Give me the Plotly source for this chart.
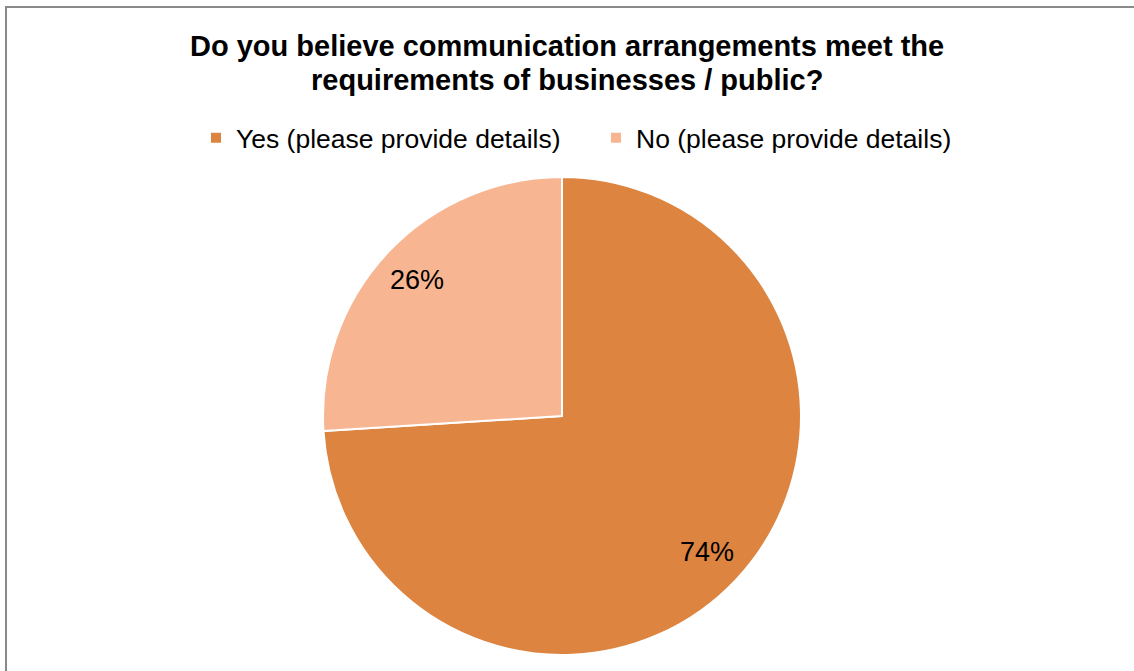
import math
import plotly.graph_objects as go

# Survey answers and their shares
labels = ["Yes (please provide details)", "No (please provide details)"]
values = [74, 26]
colors = ["#DC8440", "#F7B691"]
title_lines = ["Do you believe communication arrangements meet the",
               "requirements of businesses / public?"]

W, H = 1134, 671
# pie bounding box in pixels (left, top, right, bottom)
px_left, px_top, px_right, px_bottom = 323, 177, 801, 655
dom_x = [px_left / W, px_right / W]
dom_y = [1 - px_bottom / H, 1 - px_top / H]

font_family = "Arial, Liberation Sans, sans-serif"

fig = go.Figure(go.Pie(
    labels=labels,
    values=values,
    sort=False,
    direction="clockwise",
    rotation=0,
    marker=dict(colors=colors, line=dict(color="white", width=2)),
    textinfo="none",
    hoverinfo="label+percent",
    domain=dict(x=dom_x, y=dom_y),
))

# percentage labels placed along each slice's middle angle
cx = (px_left + px_right) / 2
cy = (px_top + px_bottom) / 2
r = (px_right - px_left) / 2
total = sum(values)
cum = 0
annotations = []
for v in values:
    mid = (cum + v / 2) / total * 2 * math.pi
    cum += v
    x = cx + 0.83 * r * math.sin(mid)
    y = cy - 0.83 * r * math.cos(mid)
    annotations.append(dict(
        x=x / W, y=1 - y / H, xref="paper", yref="paper",
        text=f"{round(v / total * 100)}%", showarrow=False,
        font=dict(family=font_family, size=27, color="#000000"),
        xanchor="center", yanchor="middle",
    ))

# two-line bold title
for line, ypx in zip(title_lines, [46, 80]):
    annotations.append(dict(
        x=0.5, y=1 - ypx / H, xref="paper", yref="paper",
        text=f"<b>{line}</b>", showarrow=False,
        font=dict(family=font_family, size=29, color="#000000"),
        xanchor="center", yanchor="middle",
    ))

fig.update_layout(
    width=W, height=H,
    margin=dict(l=0, r=0, t=0, b=0),
    paper_bgcolor="white",
    plot_bgcolor="white",
    showlegend=True,
    legend=dict(
        orientation="h", x=196 / W, xanchor="left", y=1 - 138 / H, yanchor="middle",
        font=dict(family=font_family, size=26.5, color="#000000"),
        itemwidth=30, entrywidth=355, entrywidthmode="pixels",
        bgcolor="rgba(0,0,0,0)",
    ),
    annotations=annotations,
    shapes=[dict(
        type="rect", xref="paper", yref="paper",
        x0=6 / W, x1=1.05, y0=-0.05, y1=1 - 7 / H,
        line=dict(color="#898989", width=2), fillcolor="rgba(0,0,0,0)",
    )],
)

fig.write_html("out.html")
